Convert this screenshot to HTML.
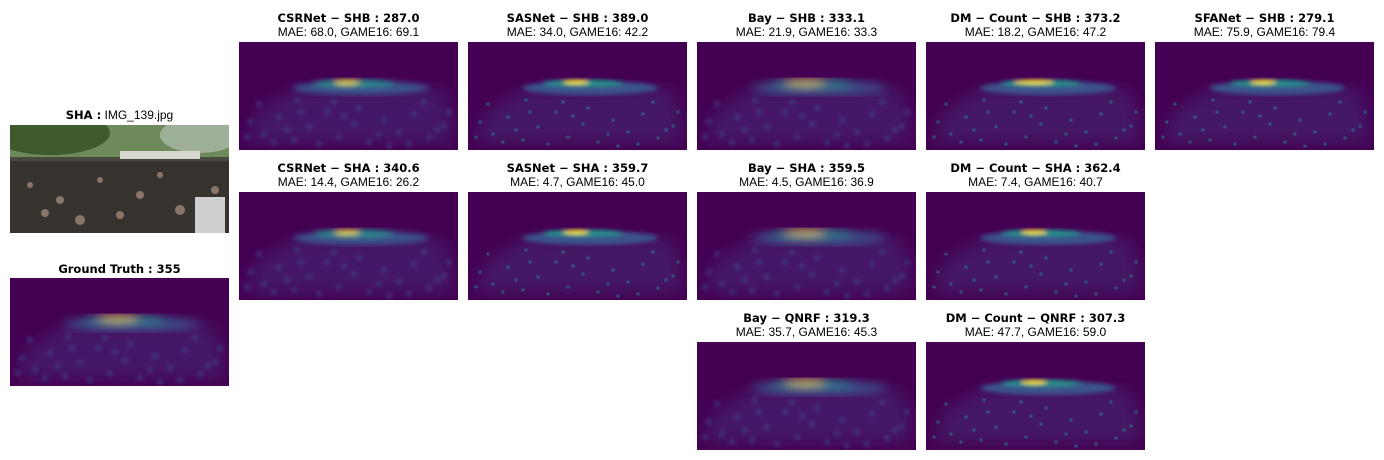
<!DOCTYPE html>
<html><head><meta charset="utf-8">
<style>
body{margin:0;width:1384px;height:460px;background:#fff;position:relative;overflow:hidden;font-family:"Liberation Sans","DejaVu Sans",sans-serif;}
.t{position:absolute;width:219px;text-align:center;font-size:12px;color:#000;white-space:nowrap;}
.b{font-weight:bold;font-family:"DejaVu Sans","Liberation Sans",sans-serif;font-size:11.5px}
.p{position:absolute;width:219px;height:108px;}
</style></head><body>
<svg width="0" height="0" style="position:absolute">
<defs>
<filter id="f2"><feGaussianBlur stdDeviation="2"/></filter>
<filter id="f3"><feGaussianBlur stdDeviation="3"/></filter>
<filter id="f5"><feGaussianBlur stdDeviation="5"/></filter>
<filter id="f8"><feGaussianBlur stdDeviation="8"/></filter>
<filter id="f1"><feGaussianBlur stdDeviation="0.8"/></filter>
</defs></svg>
<div id="root"></div>
<script>
const names=["CSRNet-SHB","SASNet-SHB","Bay-SHB","DM-Count-SHB","SFANet-SHB","CSRNet-SHA","SASNet-SHA","Bay-SHA","DM-Count-SHA","Bay-QNRF","DM-Count-QNRF"];
const counts=["287.0","389.0","333.1","373.2","279.1","340.6","359.7","359.5","362.4","319.3","307.3"];
const maes=["68.0","34.0","21.9","18.2","75.9","14.4","4.7","4.5","7.4","35.7","47.7"];
const games=["69.1","42.2","33.3","47.2","79.4","26.2","45.0","36.9","40.7","45.3","59.0"];
const cols=[1,2,3,4,5,1,2,3,4,3,4];
const rows=[0,0,0,0,0,1,1,1,1,2,2];
const colX=[10,239,468,697,926,1155];
const rowY=[42,192,342];
const root=document.getElementById('root');
const dots=[[12,80],[25,92],[40,75],[55,98],[70,85],[88,70],[100,95],[115,82],[130,100],[145,78],[160,90],[175,72],[190,96],[205,84],[20,62],[48,88],[80,102],[120,66],[150,104],[185,60],[35,100],[62,70],[95,60],[140,92],[170,102],[210,70],[8,95],[105,74],[198,88],[58,58]];
function density(sharp,bright){
  const blur=sharp?'f2':(bright>1?'f5':'f3');
  let s=`<svg width="219" height="108" xmlns="http://www.w3.org/2000/svg"><rect width="219" height="108" fill="#440154"/>`;
  s+=`<g filter="url(#f8)"><path d="M15 75 Q45 50 65 48 L200 46 L212 70 L212 100 L10 100Z" fill="#46337e" opacity="0.45"/></g>`;
  s+=`<g filter="url(#${blur})"><ellipse cx="122" cy="46" rx="68" ry="7" fill="#3b528b"/>`;
  s+=`<ellipse cx="115" cy="41" rx="40" ry="3.5" fill="#21918c"/>`;
  s+=`<ellipse cx="108" cy="40" rx="${bright>1?20:13}" ry="2.2" fill="${bright>0?'#fde725':'#5ec962'}"/></g>`;
  s+=`<g filter="url(#${sharp?'f1':'f2'})">`;
  dots.forEach(d=>{s+=`<circle cx="${d[0]}" cy="${d[1]}" r="${sharp?1.3:2.3}" fill="${sharp?'#26828e':'#3e4a89'}"/>`;});
  s+=`</g></svg>`;return s;
}
function el(tag,cls,name,x,y,html){const e=document.createElement(tag);e.className=cls;e.style.left=x+'px';e.style.top=y+'px';e.innerHTML=html;


root.appendChild(e);return e;}
names.forEach((n,i)=>{
  const x=colX[cols[i]],y=rowY[rows[i]];
  const slug=n.toLowerCase();
  el('div','t b',slug+'-title',x,y-31,n.replace(/-/g,' − ')+' : '+counts[i]);
  el('div','t',slug+'-metrics',x,y-17,'MAE: '+maes[i]+', GAME16: '+games[i]);
  const sharp=n.startsWith('DM')||n.startsWith('SAS')||n.startsWith('SFA');
  const bright=n.startsWith('Bay')||n==='DM-Count-SHB'?2:1;
  el('div','p',slug+'-density-map',x,y,density(sharp,bright));
});
el('div','t','input-image-title',10,108,'<b class="b">SHA :</b> IMG_139.jpg');
el('div','p','input-photo',10,125,`<svg width="219" height="108"><rect width="219" height="108" fill="#4a4640"/><rect width="219" height="32" fill="#6f8a5a"/><ellipse cx="40" cy="8" rx="60" ry="22" fill="#3f5a2c"/><ellipse cx="190" cy="10" rx="40" ry="18" fill="#9fb098"/><rect x="110" y="26" width="80" height="8" fill="#d8d8d0"/><rect y="36" width="219" height="72" fill="#36322e"/><g fill="#a08878" opacity="0.8"><circle cx="20" cy="60" r="3"/><circle cx="50" cy="75" r="4"/><circle cx="90" cy="55" r="3"/><circle cx="130" cy="70" r="4"/><circle cx="170" cy="85" r="5"/><circle cx="205" cy="65" r="4"/><circle cx="70" cy="95" r="5"/><circle cx="110" cy="90" r="4"/><circle cx="150" cy="50" r="3"/><circle cx="35" cy="88" r="4"/></g><g fill="#cfcfcf"><rect x="185" y="72" width="30" height="36"/></g></svg>`);
el('div','t b','ground-truth-title',10,262,'Ground Truth : 355');
el('div','p','ground-truth-density-map',10,278,density(false,2));
</script>
</body></html>
